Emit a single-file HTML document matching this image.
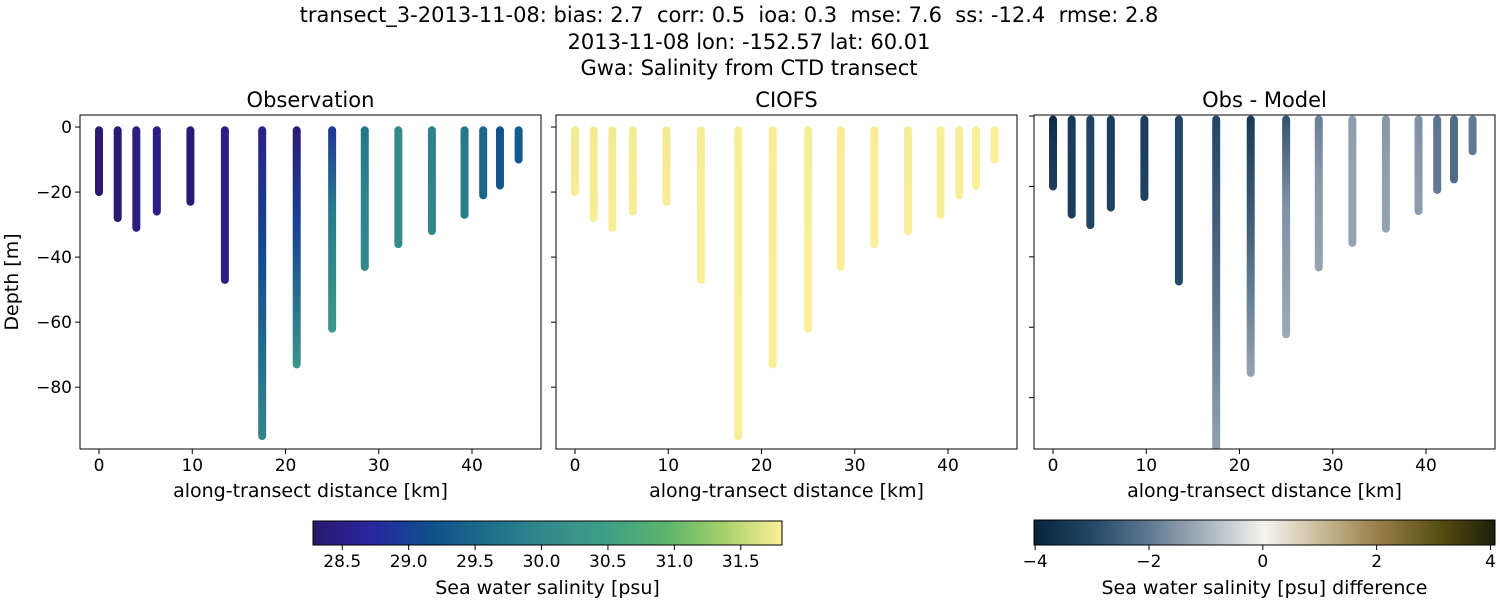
<!DOCTYPE html>
<html><head><meta charset="utf-8"><style>
body{margin:0;background:#fff;font-family:"Liberation Sans","DejaVu Sans",sans-serif}
svg text{font-family:"DejaVu Sans","Liberation Sans",sans-serif;fill:#000;white-space:pre}
</style></head><body>
<svg id="fig" width="1500" height="600" xmlns="http://www.w3.org/2000/svg" xml:space="preserve">
<text x="729" y="22" font-size="21" text-anchor="middle">transect_3-2013-11-08: bias: 2.7  corr: 0.5  ioa: 0.3  mse: 7.6  ss: -12.4  rmse: 2.8</text>
<text x="749" y="49" font-size="21" text-anchor="middle">2013-11-08 lon: -152.57 lat: 60.01</text>
<text x="749" y="75" font-size="21" text-anchor="middle">Gwa: Salinity from CTD transect</text>
<defs id="defs"></defs>
<g id="plots"></g>
</svg>
<script>
// ---- data ----
const stationKm   = [0, 2, 4, 6.2, 9.8, 13.5, 17.5, 21.2, 25, 28.5, 32.1, 35.7, 39.2, 41.2, 43, 45];
const stationDepth= [20, 28, 31, 26, 23, 47, 95, 73, 62, 43, 36, 32, 27, 21, 18, 10];
const obsTop      = [28.3, 28.35, 28.45, 28.45, 28.35, 28.5, 28.5, 28.35, 28.9, 29.7, 30.05, 29.9, 29.75, 29.5, 29.2, 29.4];
const obsMid      = [28.3, 28.35, 28.45, 28.5, 28.35, 28.5, 29.1, 29.0, 29.8, 29.9, 30.05, 29.95, 29.8, 29.5, 29.25, 29.3];
const obsBottom   = [28.3, 28.35, 28.45, 28.5, 28.35, 28.5, 30.0, 30.3, 30.35, 30.0, 30.05, 30.0, 29.85, 29.5, 29.3, 29.3];
const modelTop    = [31.75, 31.75, 31.75, 31.75, 31.75, 31.78, 31.78, 31.78, 31.78, 31.78, 31.78, 31.78, 31.8, 31.78, 31.78, 31.8];
const modelBottom = [31.78, 31.78, 31.78, 31.78, 31.78, 31.8, 31.8, 31.8, 31.8, 31.8, 31.8, 31.8, 31.8, 31.8, 31.8, 31.8];
const diffTop     = [-3.8, -3.4, -3.2, -3.3, -3.3, -3.1, -3.1, -3.4, -2.8, -1.9, -1.4, -1.5, -1.6, -2.1, -2.3, -2.0];
const diffMid     = [-3.5, -3.3, -3.1, -3.3, -3.3, -3.0, -2.4, -2.6, -1.6, -1.5, -1.3, -1.4, -1.5, -2.0, -2.3, -2.0];
const diffBottom  = [-3.3, -3.3, -3.1, -3.2, -3.2, -3.0, -1.3, -1.3, -1.2, -1.3, -1.3, -1.3, -1.4, -2.0, -2.3, -2.0];
const xTicks = [0, 10, 20, 30, 40];
const yTicks = [0, -20, -40, -60, -80];
const salTicks = [28.5, 29.0, 29.5, 30.0, 30.5, 31.0, 31.5];
const diffTicks = [-4, -2, 0, 2, 4];

const SAL_MIN = 28.28, SAL_MAX = 31.81, DIFF_MIN = -4.05, DIFF_MAX = 4.05;
const haline = [[42,24,108],[41,38,160],[14,80,140],[30,110,138],[52,138,140],[62,158,134],[90,180,110],[165,208,105],[253,239,154]];
const diffcm = [[8,34,58],[35,72,102],[95,120,145],[170,180,190],[245,243,240],[200,185,150],[150,125,70],[90,80,20],[28,30,8]];
function cmap(stops,t){t=Math.max(0,Math.min(1,t));const n=stops.length-1,f=t*n,i=Math.min(n-1,Math.floor(f)),r=f-i;const a=stops[i],b=stops[i+1];return `rgb(${a.map((v,k)=>Math.round(v+(b[k]-v)*r)).join(',')})`;}
const salColor=v=>cmap(haline,(v-SAL_MIN)/(SAL_MAX-SAL_MIN));
const diffColor=v=>cmap(diffcm,(v-DIFF_MIN)/(DIFF_MAX-DIFF_MIN));

const NS="http://www.w3.org/2000/svg";
const plots=document.getElementById('plots'), defs=document.getElementById('defs');
function mk(tag,attrs,parent){const e=document.createElementNS(NS,tag);for(const k in attrs)e.setAttribute(k,attrs[k]);(parent||plots).appendChild(e);return e;}
let gid=0;
function panel(name,x0,x1,y0,y1,ymax,ymin,title,tops,mids,bots,colorFn,showYLabels){
  const g=mk('g',{});
  
  
  const sx=v=>x0+(v+2.04)/(47.4+2.04)*(x1-x0);
  const sy=v=>y0+(ymax-v)/(ymax-ymin)*(y1-y0);
  const cp='clip'+name;
  const c=mk('clipPath',{id:cp},defs);mk('rect',{x:x0,y:y0,width:x1-x0,height:y1-y0},c);
  const mg=mk('g',{'clip-path':`url(#${cp})`},g);
  stationKm.forEach((km,i)=>{
    const id='gr'+(gid++);
    const lg=mk('linearGradient',{id:id,x1:0,y1:0,x2:0,y2:1},defs);
    mk('stop',{offset:'0%','stop-color':colorFn(tops[i])},lg);
    mk('stop',{offset:'40%','stop-color':colorFn(mids[i])},lg);
    mk('stop',{offset:'100%','stop-color':colorFn(bots[i])},lg);
    const ya=sy(-1), yb=sy(-stationDepth[i]);
    const r=mk('rect',{x:sx(km)-4,y:ya-4,width:8,height:yb-ya+8,rx:4,fill:`url(#${id})`},mg);
    
    
  });
  mk('rect',{x:x0,y:y0,width:x1-x0,height:y1-y0,fill:'none',stroke:'#000','stroke-width':1},g);
  xTicks.forEach(t=>{const x=sx(t);mk('line',{x1:x,x2:x,y1:y1,y2:y1+5,stroke:'#000'},g);
    const tx=mk('text',{x:x,y:y1+22,'font-size':17,'text-anchor':'middle'},g);tx.textContent=t;
    });
  yTicks.forEach(t=>{const y=sy(t);if(y<y0-1||y>y1)return;mk('line',{x1:x0-5,x2:x0,y1:y,y2:y,stroke:'#000'},g);
    if(showYLabels){const tx=mk('text',{x:x0-8,y:y+6,'font-size':17,'text-anchor':'end'},g);tx.textContent=t===0?'0':'\u2212'+(-t);
    }});
  const tt=mk('text',{x:(x0+x1)/2,y:y0-8,'font-size':21,'text-anchor':'middle'},g);tt.textContent=title;
  
  const xl=mk('text',{x:(x0+x1)/2,y:y1+48,'font-size':19,'text-anchor':'middle'},g);xl.textContent='along-transect distance [km]';
  
}
panel('observation-panel',80,541,115,449,3.7,-99,'Observation',obsTop,obsMid,obsBottom,salColor,true);
const modelMid=modelTop.map((v,i)=>(v+modelBottom[i])/2);
panel('ciofs-panel',556,1017,115,449,3.7,-99,'CIOFS',modelTop,modelMid,modelBottom,salColor,false);
panel('difference-panel',1034,1495,115,449,0.3,-94.6,'Obs - Model',diffTop,diffMid,diffBottom,diffColor,false);
const yl=mk('text',{x:18,y:282,'font-size':19,'text-anchor':'middle',transform:'rotate(-90 18 282)'});yl.textContent='Depth [m]';


function colorbar(name,x0,x1,y0,y1,vmin,vmax,stops,ticks,label,fmt){
  const g=mk('g',{});
  
  
  const id='cb'+name;const lg=mk('linearGradient',{id:id,x1:0,y1:0,x2:1,y2:0},defs);
  stops.forEach((s,i)=>mk('stop',{offset:(i/(stops.length-1)*100)+'%','stop-color':`rgb(${s.join(',')})`},lg));
  mk('rect',{x:x0,y:y0,width:x1-x0,height:y1-y0,fill:`url(#${id})`,stroke:'#000'},g);
  const s=v=>x0+(v-vmin)/(vmax-vmin)*(x1-x0);
  ticks.forEach(t=>{const x=s(t);mk('line',{x1:x,x2:x,y1:y1,y2:y1+5,stroke:'#000'},g);
    const tx=mk('text',{x:x,y:y1+22,'font-size':17,'text-anchor':'middle'},g);tx.textContent=fmt(t);
    });
  const l=mk('text',{x:(x0+x1)/2,y:y1+49,'font-size':19,'text-anchor':'middle'},g);l.textContent=label;
  
}
colorbar('salinity-colorbar',313,782,521,545,SAL_MIN,SAL_MAX,haline,salTicks,'Sea water salinity [psu]',t=>t.toFixed(1));
colorbar('difference-colorbar',1034,1495,520,545,-4.02,4.08,diffcm,diffTicks,'Sea water salinity [psu] difference',t=>t<0?'\u2212'+(-t):String(t));
</script>
</body></html>
